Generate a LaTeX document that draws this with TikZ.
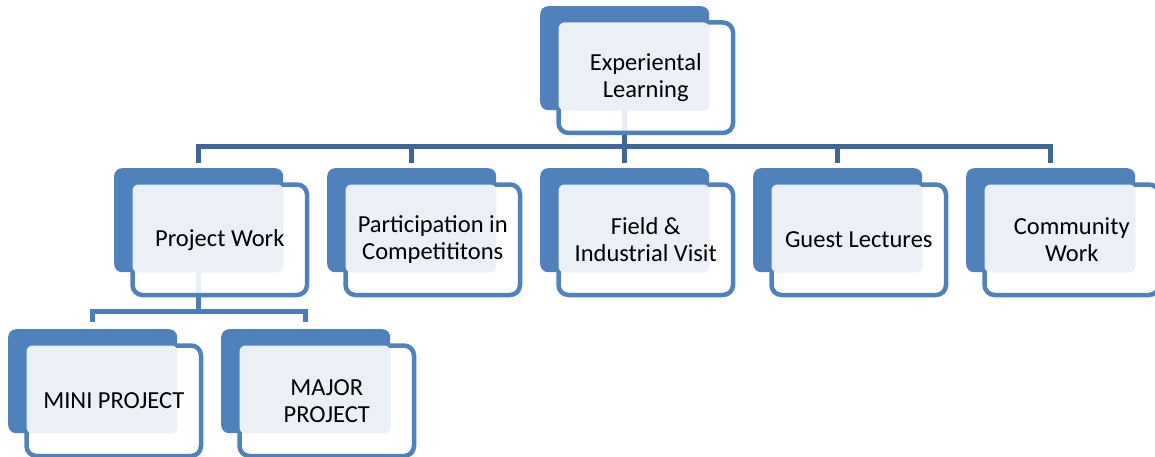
\documentclass[tikz,border=0pt]{standalone}
\usepackage{fontspec}
\setmainfont{Carlito}
\usetikzlibrary{backgrounds}
\definecolor{boxblue}{HTML}{4F81BD}
\definecolor{lightfill}{HTML}{EBF0F7}
\definecolor{connA}{HTML}{3E6698}
\definecolor{connB}{HTML}{4A7DBA}
\tikzset{
  aback/.style={rectangle, fill=boxblue, draw=none, minimum width=169pt, minimum height=104pt, inner sep=0pt, rounded corners=8pt, anchor=north west},
  bframe/.style={rectangle, draw=boxblue, line width=4.5pt, fill=white, fill opacity=0.88, minimum width=174.5pt, minimum height=110.5pt, inner sep=0pt, rounded corners=10pt, anchor=north west},
  lightbox/.style={fill=lightfill, rounded corners=6pt},
  txt/.style={align=center, font=\fontsize{24.5}{27}\selectfont, text=black, inner sep=0pt},
  conntop/.style={draw=connA, line width=5pt},
  connlow/.style={draw=connB, line width=5pt},
}
\newcommand{\elem}[4]{%
  \node[aback] (#1-a) at (#2,#3) {};
  \node[bframe] (#1-b) at ({#2+16.25},{#3+14.25}) {};
  \fill[lightbox] ([xshift=2.25pt,yshift=-2.25pt]#1-b.north west) rectangle (#1-a.south east);
  \node[txt] (#1-t) at (#1-b.center) {#4};
}
\begin{document}
\begin{tikzpicture}[x=1pt,y=-1pt]
\useasboundingbox (0,0) rectangle (1155,457);
\elem{top}{540}{6}{Experiental\\Learning}
\elem{pw}{114}{168}{Project Work}
\elem{part}{327}{168}{Participation in\\Competititons}
\elem{field}{540}{168}{Field \&\\Industrial Visit}
\elem{guest}{753}{168}{Guest Lectures}
\elem{comm}{966}{168}{Community\\Work}
\elem{mini}{8}{329}{MINI PROJECT}
\elem{major}{221}{329}{MAJOR\\PROJECT}
\begin{scope}[on background layer]
  \foreach \c in {pw,part,field,guest,comm}{
    \draw[conntop] (top-a.south) -- ++(0,36) -| ([yshift=5pt]\c-a.north);
  }
  \foreach \c in {mini,major}{
    \draw[connlow] (pw-a.south) -- ++(0,39) -| ([yshift=7pt]\c-a.north);
  }
\end{scope}
\end{tikzpicture}
\end{document}
